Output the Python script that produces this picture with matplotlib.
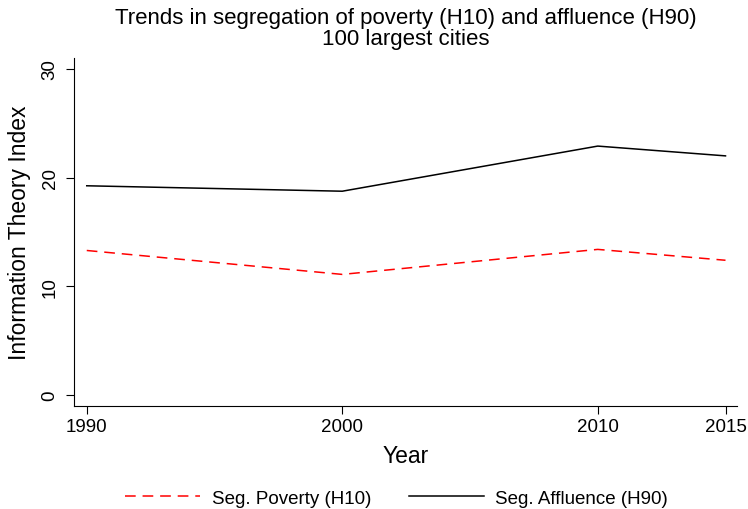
import matplotlib
matplotlib.use("Agg")
import matplotlib.pyplot as plt

plt.rcParams['font.family'] = ['Liberation Sans', 'DejaVu Sans']

years = [1990, 2000, 2010, 2015]
poverty_h10 = [13.3, 11.1, 13.4, 12.4]
affluence_h90 = [19.25, 18.75, 22.9, 22.0]
yticks = [0, 10, 20, 30]

fig = plt.figure(figsize=(7.48, 5.10), dpi=100)
ax = fig.add_axes([0.0989, 0.2020, 0.8864, 0.6823])

ax.plot(years, poverty_h10, color='red', lw=1.1, dashes=(7, 4.5),
        label='Seg. Poverty (H10)')
ax.plot(years, affluence_h90, color='black', lw=1.1,
        label='Seg. Affluence (H90)')

ax.set_xlim(1989.5, 2015.45)
ax.set_ylim(-1.0, 31.0)
ax.set_xticks(years)
ax.set_yticks(yticks)
ax.tick_params(direction='out', length=6, width=0.8, labelsize=13.5)
ax.tick_params(axis='x', pad=3)
ax.tick_params(axis='y', pad=5)
for lab in ax.get_yticklabels():
    lab.set_rotation(90)
    lab.set_va('center')

for side in ('top', 'right'):
    ax.spines[side].set_visible(False)
for side in ('left', 'bottom'):
    ax.spines[side].set_linewidth(0.8)

ax.set_xlabel('Year', fontsize=16.5, labelpad=6)
ax.set_ylabel('Information Theory Index', fontsize=16.5, labelpad=8)

fig.text(0.542, 0.985,
         'Trends in segregation of poverty (H10) and affluence (H90)\n100 largest cities',
         ha='center', va='top', fontsize=16, linespacing=1.0)

fig.legend(loc='center', bbox_to_anchor=(0.53, 0.021), ncol=2, frameon=False,
           fontsize=13.5, handlelength=4.0, handletextpad=0.6, columnspacing=2.0,
           borderpad=0.2)

fig.savefig('out.png', dpi=100)
